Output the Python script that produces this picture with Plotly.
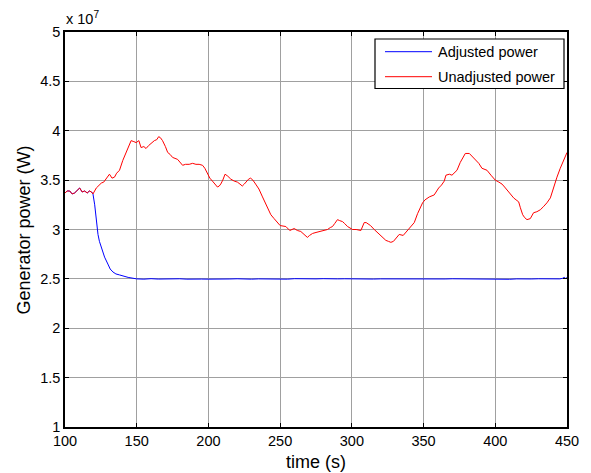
import plotly.graph_objects as go

# ---- data (power in units of 1e7 W) ----
red_t = [100, 101.5, 103.3, 105, 106.7, 108.5, 110.2, 112, 113.7, 115.5, 117, 118.5, 119.5,
         121.8, 123.5, 125.3, 127, 128.7, 131, 132.8, 134.5, 136, 138, 140.3, 142.6, 144.5,
         146.1, 148, 149.6, 151.5, 153, 155, 156.5, 158.3, 160, 162.3, 164, 165.3, 166.5, 168,
         170, 171.6, 173.3, 175, 178.5, 180, 182, 184, 186.6, 189, 191.3, 193.5, 195.9, 197.5,
         199.4, 201, 202.8, 204.5, 206.3, 207.5, 208.6, 210, 211.6, 213.5, 215.6, 218, 220.2,
         222, 223.6, 225, 226, 228, 229.4, 231, 232.9, 234.5, 235.2, 237.7, 239.5, 241.2, 243.5,
         245.8, 248, 250, 254, 256.7, 259.8, 262, 264.4, 267, 269, 270.5, 272.6, 275, 277.2,
         280, 283, 285, 286.5, 288, 290, 291.5, 293.5, 295, 297, 300.5, 303, 306.3, 307.5,
         308.6, 310, 311, 313, 315.6, 318, 320.2, 322, 323.7, 325.5, 327.2, 329, 330.7, 333,
         335.8, 338, 340, 342, 343.5, 345.8, 347.5, 349.3, 351, 354, 357.4, 360.5, 362.5,
         364.4, 365.6, 368, 369.8, 371.5, 373.3, 375.6, 377.5, 379.1, 381.9, 384, 386, 388.5,
         390.7, 392.5, 394.2, 397, 400, 402.5, 404.7, 406.5, 408.1, 410.5, 412.8, 414.5, 416.3,
         417.5, 419.1, 420.5, 422.1, 424.4, 425.5, 426.7, 429, 431.4, 433.5, 436, 438.4, 440.7,
         442, 443, 445.3, 446.5, 447.7, 449.3, 450]
red_p = [3.37, 3.39, 3.39, 3.36, 3.37, 3.40, 3.42, 3.38, 3.39, 3.37, 3.39, 3.38, 3.36,
         3.42, 3.45, 3.47, 3.48, 3.51, 3.56, 3.52, 3.53, 3.57, 3.60, 3.70, 3.78, 3.85,
         3.90, 3.89, 3.88, 3.90, 3.83, 3.84, 3.82, 3.85, 3.87, 3.90, 3.91, 3.94, 3.93, 3.90,
         3.84, 3.78, 3.76, 3.73, 3.71, 3.68, 3.65, 3.66, 3.66, 3.67, 3.66, 3.66, 3.65, 3.62,
         3.56, 3.52, 3.49, 3.46, 3.43, 3.44, 3.46, 3.50, 3.56, 3.54, 3.51, 3.49, 3.48,
         3.46, 3.44, 3.46, 3.48, 3.51, 3.52, 3.50, 3.46, 3.43, 3.41, 3.33, 3.27, 3.21, 3.15,
         3.11, 3.07, 3.04, 3.03, 2.99, 3.01, 2.99, 2.98, 2.95, 2.92, 2.94, 2.96, 2.97, 2.98,
         2.99, 3.00, 3.02, 3.03, 3.06, 3.10, 3.09, 3.08, 3.06, 3.03, 3.00, 3.00, 2.99, 3.03,
         3.07, 3.07, 3.06, 3.04, 3.00, 2.97, 2.94, 2.92, 2.89, 2.88, 2.87, 2.88, 2.91, 2.95,
         2.94, 2.98, 3.01, 3.05, 3.07, 3.16, 3.22, 3.27, 3.30, 3.33, 3.35, 3.42, 3.45,
         3.49, 3.55, 3.56, 3.55, 3.57, 3.60, 3.68, 3.73, 3.77, 3.77, 3.74, 3.71, 3.67,
         3.62, 3.61, 3.60, 3.55, 3.50, 3.48, 3.46, 3.43, 3.40, 3.36, 3.32, 3.30, 3.28,
         3.22, 3.15, 3.12, 3.10, 3.11, 3.14, 3.17, 3.18, 3.20, 3.23, 3.27, 3.32, 3.43,
         3.48, 3.53, 3.62, 3.66, 3.70, 3.77, 3.78]

blue_t = [100, 101.5, 103.3, 105, 106.7, 108.5, 110.2, 112, 113.7, 115.5, 117, 118.5, 119.5,
          120.7, 121.8, 123, 124, 125.3, 127.6, 129.9, 131.5, 133.4, 135.5, 138, 140, 142.6,
          144, 146, 148, 150, 155, 160, 165, 170, 175, 180, 185, 190, 195, 200, 205, 210,
          215, 220, 225, 230, 235, 240, 245, 250, 255, 260, 265, 270, 275, 280, 285, 290,
          295, 300, 305, 310, 315, 320, 325, 330, 335, 340, 345, 350, 355, 360, 365, 370,
          375, 380, 385, 390, 395, 400, 405, 410, 415, 420, 425, 430, 435, 440, 445, 447,
          448, 449, 450]
blue_p = [3.37, 3.39, 3.39, 3.36, 3.37, 3.40, 3.42, 3.38, 3.39, 3.37, 3.39, 3.38, 3.36,
          3.25, 3.09, 2.95, 2.88, 2.82, 2.72, 2.65, 2.60, 2.57, 2.55, 2.54, 2.53, 2.52,
          2.515, 2.51, 2.505, 2.50, 2.497, 2.502, 2.498, 2.500, 2.496, 2.501, 2.497, 2.500,
          2.498, 2.497, 2.500, 2.496, 2.499, 2.501, 2.498, 2.497, 2.500, 2.498, 2.497, 2.500,
          2.497, 2.502, 2.499, 2.496, 2.500, 2.502, 2.498, 2.500, 2.501, 2.499, 2.502, 2.497,
          2.498, 2.500, 2.499, 2.500, 2.501, 2.503, 2.500, 2.500, 2.501, 2.500, 2.499, 2.501,
          2.500, 2.500, 2.499, 2.501, 2.499, 2.500, 2.497, 2.496, 2.500, 2.497, 2.499, 2.501,
          2.500, 2.499, 2.500, 2.506, 2.515, 2.505, 2.512]

series_names = ["Adjusted power", "Unadjusted power"]
x_ticks = [100, 150, 200, 250, 300, 350, 400, 450]
y_ticks = [1, 1.5, 2, 2.5, 3, 3.5, 4, 4.5, 5]
y_tick_text = ["1", "1.5", "2", "2.5", "3", "3.5", "4", "4.5", "5"]

FONT = "Liberation Sans, Arial, sans-serif"
colors = ["#0000ff", "#ff0000"]

fig = go.Figure()
fig.add_trace(go.Scatter(x=blue_t, y=blue_p, mode="lines", name=series_names[0],
                         line=dict(color=colors[0], width=1)))
fig.add_trace(go.Scatter(x=red_t, y=red_p, mode="lines", name=series_names[1],
                         line=dict(color=colors[1], width=1)))

W, H = 591, 473
L, R, T, B = 65, 24, 32, 46
pw, ph = W - L - R, H - T - B

def px(xp):
    return (xp - L) / pw

def py(yp):
    return (H - B - yp) / ph

axis_common = dict(showline=True, linecolor="black", linewidth=1.5, mirror="ticks",
                   ticks="inside", ticklen=4, tickcolor="black", showgrid=True,
                   gridcolor="#a0a0a0", gridwidth=1, zeroline=False,
                   tickfont=dict(family=FONT, size=14.5, color="black"))

fig.update_xaxes(range=[100, 450], tickvals=x_ticks, **axis_common)
fig.update_yaxes(range=[1, 5], tickvals=y_ticks, ticktext=y_tick_text, **axis_common)

# custom MATLAB-like legend
shapes = [
    dict(type="rect", xref="paper", yref="paper", x0=px(375), x1=px(564), y0=py(88.5), y1=py(39),
         line=dict(color="black", width=1.2), fillcolor="white", layer="above"),
    dict(type="line", xref="paper", yref="paper", x0=px(385), x1=px(432), y0=py(51.7), y1=py(51.7),
         line=dict(color=colors[0], width=1), layer="above"),
    dict(type="line", xref="paper", yref="paper", x0=px(385), x1=px(432), y0=py(76.7), y1=py(76.7),
         line=dict(color=colors[1], width=1), layer="above"),
]
annotations = [
    dict(text=series_names[0], xref="paper", yref="paper", x=px(436), y=py(51.7),
         xanchor="left", yanchor="middle", showarrow=False,
         font=dict(family=FONT, size=14.5, color="black")),
    dict(text=series_names[1], xref="paper", yref="paper", x=px(436), y=py(76.7),
         xanchor="left", yanchor="middle", showarrow=False,
         font=dict(family=FONT, size=14.5, color="black")),
    dict(text="x 10<sup>7</sup>", xref="paper", yref="paper", x=px(64), y=py(18),
         xanchor="left", yanchor="middle", showarrow=False,
         font=dict(family=FONT, size=14.5, color="black")),
    dict(text="time (s)", xref="paper", yref="paper", x=px(316), y=py(462),
         xanchor="center", yanchor="middle", showarrow=False,
         font=dict(family=FONT, size=18, color="black")),
    dict(text="Generator power (W)", xref="paper", yref="paper", x=px(23.5), y=py(230),
         xanchor="center", yanchor="middle", showarrow=False, textangle=-90,
         font=dict(family=FONT, size=18, color="black")),
]

fig.update_layout(width=W, height=H, margin=dict(l=L, r=R, t=T, b=B, autoexpand=False),
                  paper_bgcolor="white", plot_bgcolor="white", showlegend=False,
                  shapes=shapes, annotations=annotations,
                  font=dict(family=FONT, color="black"))

fig.write_html("out.html")
